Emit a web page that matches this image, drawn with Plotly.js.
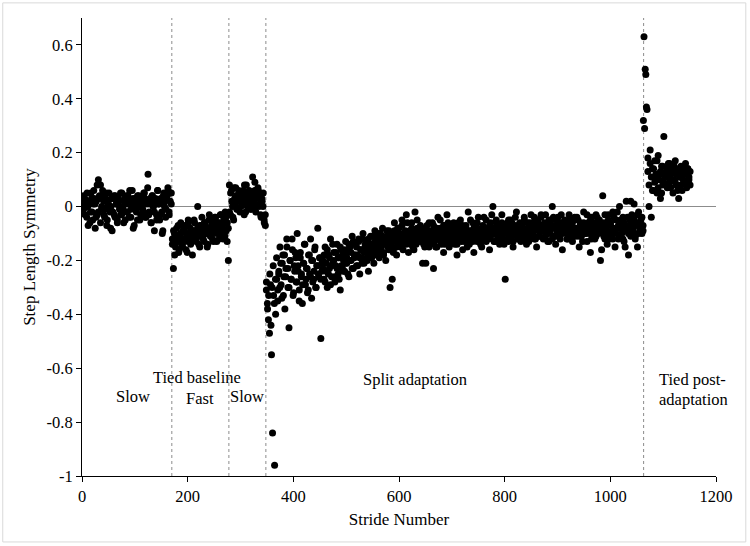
<!DOCTYPE html>
<html>
<head>
<meta charset="utf-8">
<script src="https://cdn.plot.ly/plotly-3.0.1.min.js"></script>
<style>
  html, body { margin: 0; padding: 0; background: #fff; }
  #chart { width: 750px; height: 546px; }
</style>
</head>
<body>
<div id="chart"></div>
<script>
// phase boundaries (stride numbers)
var phaseBounds = [170, 278, 348, 1063];

// step length symmetry, two passes per phase
var slowBase = [0.02,-0.01,0.03,0.01,-0.04,0.00,0.02,-0.06,0.05,-0.02,0.01,0.03,-0.08,0.02,-0.03,0.10,0.04,0.08,-0.01,0.06,
  0.02,-0.04,0.03,-0.07,0.01,0.05,-0.02,0.00,-0.09,0.03,-0.03,0.04,0.01,-0.05,0.02,-0.01,0.05,-0.03,0.00,-0.06,
  0.03,0.01,-0.02,0.04,-0.04,0.02,-0.01,0.06,-0.08,0.00,0.03,-0.02,-0.05,0.04,0.01,-0.03,0.02,-0.01,0.05,0.03,
  -0.04,0.01,0.12,-0.02,0.03,-0.06,0.04,0.00,-0.09,0.02,-0.03,0.06,0.01,-0.05,0.03,-0.02,-0.09,0.05,0.02,-0.01,
  0.04,0.06,-0.03,0.02,0.05];
var slowBaseB = [0.01,0.04,-0.03,0.00,0.05,-0.07,0.02,-0.02,0.03,-0.05,0.06,0.01,-0.04,0.08,-0.02,0.03,-0.06,0.00,0.04,-0.03,
  -0.01,0.05,-0.05,0.02,0.00,-0.08,0.03,-0.02,0.04,-0.04,0.01,-0.06,0.03,0.00,-0.03,0.05,-0.01,0.02,-0.05,0.04,
  -0.02,0.01,0.06,-0.04,0.00,0.03,-0.07,0.02,-0.01,0.04,0.00,-0.05,0.03,0.01,-0.02,0.05,-0.04,0.02,0.07,-0.03,
  0.01,-0.06,0.04,0.00,-0.02,0.03,-0.05,0.06,0.01,-0.03,0.02,-0.10,0.04,0.00,-0.04,0.03,0.07,-0.02,0.05,0.01];
var fastBase = [-0.12,-0.23,-0.10,-0.15,-0.08,-0.13,-0.17,-0.11,-0.06,-0.14,-0.09,-0.12,-0.07,-0.16,-0.10,-0.05,-0.13,-0.08,
  -0.11,-0.18,-0.09,-0.06,-0.12,-0.10,0.00,-0.14,-0.07,-0.11,-0.04,-0.09,-0.13,-0.06,-0.10,-0.15,-0.08,-0.03,
  -0.11,-0.07,-0.12,-0.05,-0.09,-0.04,-0.13,-0.08,-0.06,-0.10,-0.03,-0.07,-0.12,-0.05,-0.02,-0.09,-0.06,-0.20];
var fastBaseB = [-0.14,-0.09,-0.18,-0.11,-0.13,-0.07,-0.16,-0.10,-0.12,-0.15,-0.08,-0.13,-0.10,-0.17,-0.06,-0.11,-0.14,-0.09,
  -0.12,-0.05,-0.10,-0.13,-0.08,-0.11,-0.15,-0.07,-0.09,-0.12,-0.06,-0.10,-0.08,-0.14,-0.05,-0.09,-0.11,-0.07,
  -0.13,-0.04,-0.08,-0.10,-0.06,-0.12,-0.03,-0.09,-0.07,-0.05,-0.11,-0.04,-0.13,-0.08];
var slowBase2 = [0.08,-0.03,0.06,0.00,-0.05,0.03,0.07,-0.01,0.02,0.05,-0.02,0.04,0.01,0.06,-0.03,0.03,0.08,0.00,
  0.05,0.02,-0.01,0.04,0.11,0.01,0.06,-0.02,0.03,0.07,0.00,0.04,-0.04,0.02,0.05,-0.06,-0.07];
var slowBase2B = [-0.02,0.05,0.02,-0.04,0.07,0.01,0.04,-0.01,0.06,0.03,0.00,0.05,0.02,0.08,-0.02,0.04,0.01,0.06,
  0.03,-0.01,0.05,0.02,0.09,0.00,0.04,0.06,0.01,-0.03,0.03,0.00,-0.05,-0.03];
var splitEarly = [-0.31,-0.36,-0.42,-0.47,-0.29,-0.55,-0.84,-0.33,-0.96,-0.40,-0.27,-0.35,-0.25,-0.30,-0.21,-0.34,
  -0.18,-0.26,-0.38,-0.23,-0.15,-0.30,-0.45,-0.20,-0.27,-0.12,-0.33,-0.22,-0.17,-0.28,-0.10,-0.24,-0.31,-0.19,
  -0.26,-0.36,-0.21,-0.14,-0.29,-0.23,-0.32,-0.18,-0.25,-0.12,-0.34,-0.20,-0.27,-0.16,-0.30,-0.22,-0.08,-0.26,
  -0.19,-0.49,-0.24];
var splitEarlyB = [-0.28,-0.38,-0.33,-0.25,-0.44,-0.30,-0.22,-0.36,-0.27,-0.19,-0.31,-0.24,-0.15,-0.29,-0.21,-0.33,
  -0.18,-0.26,-0.12,-0.23,-0.30,-0.20,-0.27,-0.16,-0.32,-0.24,-0.19,-0.28,-0.22,-0.35,-0.17,-0.25,-0.29,-0.21,
  -0.14,-0.27,-0.23,-0.31,-0.18,-0.26,-0.20,-0.28,-0.24,-0.15,-0.30,-0.22,-0.25,-0.19,-0.27,-0.21];
var splitMid = [-0.20,-0.27,-0.15,-0.24,-0.30,-0.18,-0.23,-0.12,-0.26,-0.21,
  -0.17,-0.28,-0.22,-0.14,-0.25,-0.19,-0.31,-0.16,-0.23,-0.20,
  -0.24,-0.13,-0.21,-0.17,-0.26,-0.15,-0.20,-0.11,-0.23,-0.18,
  -0.14,-0.22,-0.18,-0.12,-0.25,-0.16,-0.19,-0.10,-0.21,-0.15,
  -0.13,-0.19,-0.24,-0.15,-0.11,-0.18,-0.14,-0.21,-0.09,-0.17,
  -0.12,-0.16,-0.19,-0.10,-0.14,-0.08,-0.17,-0.13,-0.20,-0.11,
  -0.15,-0.09,-0.30,-0.12,-0.27,-0.16,-0.06,-0.13,-0.18,-0.10,
  -0.08,-0.14,-0.11,-0.05,-0.16,-0.10,-0.13,-0.03,-0.12,-0.17,
  -0.09,-0.13,-0.06,-0.15,-0.11,-0.02,-0.14,-0.08,-0.12,-0.10,
  -0.07,-0.13,-0.21,-0.10,-0.15,-0.21,-0.09,-0.12,-0.06,-0.14];
var splitMidB = [-0.23,-0.18,-0.28,-0.21,-0.16,-0.25,-0.19,-0.29,-0.22,-0.14,
  -0.20,-0.26,-0.17,-0.23,-0.19,-0.27,-0.15,-0.22,-0.18,-0.24,
  -0.16,-0.21,-0.19,-0.25,-0.14,-0.20,-0.17,-0.23,-0.13,-0.19,
  -0.18,-0.15,-0.22,-0.13,-0.19,-0.16,-0.21,-0.12,-0.17,-0.14,
  -0.16,-0.20,-0.12,-0.17,-0.14,-0.19,-0.11,-0.16,-0.13,-0.18,
  -0.14,-0.10,-0.17,-0.13,-0.15,-0.11,-0.18,-0.12,-0.14,-0.09,
  -0.13,-0.16,-0.10,-0.14,-0.12,-0.17,-0.09,-0.11,-0.15,-0.08,
  -0.12,-0.10,-0.15,-0.07,-0.13,-0.11,-0.09,-0.14,-0.06,-0.12,
  -0.10,-0.14,-0.08,-0.12,-0.16,-0.09,-0.11,-0.05,-0.13,-0.10,
  -0.12,-0.08,-0.11,-0.14,-0.09,-0.13,-0.07,-0.11,-0.15,-0.10];
var splitLate = [-0.11,-0.06,-0.23,-0.13,-0.09,-0.15,-0.04,-0.12,-0.08,-0.14,
  -0.10,-0.17,-0.07,-0.12,-0.03,-0.11,-0.15,-0.08,-0.13,-0.09,
  -0.06,-0.14,-0.10,-0.18,-0.08,-0.12,-0.05,-0.11,-0.16,-0.09,
  -0.13,-0.07,-0.10,-0.02,-0.14,-0.09,-0.12,-0.06,-0.17,-0.10,
  -0.08,-0.13,-0.04,-0.11,-0.09,-0.15,-0.07,-0.12,-0.10,-0.05,
  -0.12,-0.08,-0.16,-0.06,-0.10,0.00,-0.13,-0.09,-0.05,-0.11,
  -0.07,-0.14,-0.09,-0.03,-0.12,-0.08,-0.27,-0.10,-0.06,-0.13,
  -0.09,-0.05,-0.11,-0.15,-0.07,-0.10,-0.02,-0.12,-0.08,-0.06,
  -0.13,-0.07,-0.10,-0.04,-0.09,-0.14,-0.06,-0.11,-0.08,-0.03,
  -0.10,-0.06,-0.12,-0.08,-0.15,-0.05,-0.09,-0.11,-0.04,-0.07,
  -0.12,-0.08,-0.03,-0.10,-0.06,-0.13,-0.09,-0.05,0.00,-0.11,
  -0.07,-0.14,-0.09,-0.04,-0.11,-0.06,-0.10,-0.16,-0.08,-0.05,
  -0.09,-0.12,-0.06,-0.03,-0.10,-0.07,-0.13,-0.05,-0.08,-0.11,
  -0.04,-0.09,-0.15,-0.06,-0.11,-0.08,-0.02,-0.10,-0.07,-0.13,
  -0.06,-0.09,-0.17,-0.04,-0.11,-0.07,-0.12,-0.03,-0.08,-0.10,
  -0.05,-0.20,-0.09,0.04,-0.06,-0.12,-0.08,-0.14,-0.03,-0.10,
  -0.07,-0.11,-0.02,-0.09,-0.15,-0.05,-0.08,-0.12,0.00,-0.06,
  -0.10,-0.04,-0.13,-0.07,0.02,-0.09,-0.18,-0.05,-0.11,-0.03,
  -0.08,0.01,-0.12,-0.06,-0.15,-0.02,-0.09,-0.05,-0.10,-0.07];
var splitLateB = [-0.09,-0.13,-0.07,-0.11,-0.15,-0.08,-0.12,-0.10,-0.05,-0.13,
  -0.11,-0.07,-0.14,-0.09,-0.12,-0.06,-0.10,-0.13,-0.08,-0.11,
  -0.12,-0.08,-0.10,-0.14,-0.06,-0.11,-0.09,-0.13,-0.07,-0.10,
  -0.08,-0.12,-0.15,-0.09,-0.11,-0.05,-0.10,-0.13,-0.08,-0.12,
  -0.10,-0.06,-0.12,-0.09,-0.14,-0.08,-0.11,-0.04,-0.10,-0.13,
  -0.09,-0.12,-0.07,-0.11,-0.03,-0.10,-0.08,-0.13,-0.06,-0.09,
  -0.11,-0.08,-0.12,-0.06,-0.10,-0.14,-0.07,-0.09,-0.12,-0.05,
  -0.08,-0.11,-0.06,-0.13,-0.09,-0.04,-0.10,-0.07,-0.12,-0.08,
  -0.10,-0.07,-0.12,-0.05,-0.09,-0.11,-0.08,-0.13,-0.06,-0.10,
  -0.07,-0.10,-0.04,-0.12,-0.08,-0.06,-0.11,-0.09,-0.03,-0.08,
  -0.09,-0.06,-0.11,-0.08,-0.13,-0.05,-0.10,-0.07,-0.12,-0.04,
  -0.08,-0.11,-0.05,-0.09,-0.07,-0.12,-0.03,-0.10,-0.06,-0.09,
  -0.07,-0.10,-0.12,-0.05,-0.08,-0.11,-0.06,-0.09,-0.04,-0.10,
  -0.08,-0.05,-0.11,-0.07,-0.09,-0.13,-0.06,-0.08,-0.10,-0.03,
  -0.07,-0.10,-0.05,-0.12,-0.08,-0.06,-0.09,-0.11,-0.04,-0.07,
  -0.09,-0.06,-0.16,-0.08,-0.11,-0.03,-0.07,-0.10,-0.05,-0.12,
  -0.06,-0.09,-0.12,-0.04,-0.08,-0.10,-0.02,-0.07,-0.11,-0.05,
  -0.08,-0.12,-0.06,-0.15,-0.09,-0.04,-0.10,-0.07,0.02,-0.06,
  -0.09,-0.05,-0.11,-0.07,-0.03,-0.10,-0.06,-0.08,-0.04,-0.09];
var postEarly = [0.32,0.63,0.29,0.51,0.49,0.37,0.36];
var postLate = [0.18,0.00,0.21,-0.04,0.14,0.06,0.17,0.10,0.05,0.19,0.12,0.03,0.15,0.08,0.26,0.11,0.13,0.07,0.16,
  0.09,0.12,0.14,0.05,0.10,0.17,0.08,0.13,0.03,0.11,0.15,0.06,0.12,0.09,0.16,0.07,0.14,0.10,0.08];
var postLateB = [0.13,0.08,0.16,0.11,0.06,0.14,0.09,0.12,0.17,0.07,0.10,0.13,0.05,0.15,0.09,0.12,0.08,0.14,0.11,0.16,
  0.07,0.13,0.10,0.15,0.09,0.12,0.06,0.14,0.11,0.08,0.13,0.10,0.15,0.12,0.09,0.14,0.11,0.13];

var yTicks = [-1, -0.8, -0.6, -0.4, -0.2, 0, 0.2, 0.4, 0.6];
var yTickLabels = ['-1', '-0.8', '-0.6', '-0.4', '-0.2', '0', '0.2', '0.4', '0.6'];
var xTicks = [0, 200, 400, 600, 800, 1000, 1200];

// each phase's strides run from its first to its last stride number
function strides(ys, first, last) {
  var step = (last - first) / ys.length;
  return ys.map(function (v, i) { return first + (i + 0.5) * step; });
}

var segments = [
  [slowBase, 0, 170], [slowBaseB, 0, 170],
  [fastBase, 170, 278], [fastBaseB, 170, 278],
  [slowBase2, 278, 348], [slowBase2B, 278, 348],
  [splitEarly, 348, 455], [splitEarlyB, 348, 455],
  [splitMid, 455, 660], [splitMidB, 455, 660],
  [splitLate, 660, 1063], [splitLateB, 660, 1063],
  [postEarly, 1062, 1070], [postLate, 1070, 1152], [postLateB, 1070, 1152]
];
var xs = [], ys = [];
segments.forEach(function (s) {
  xs = xs.concat(strides(s[0], s[1], s[2]));
  ys = ys.concat(s[0]);
});

var serif = '"Liberation Serif", "Times New Roman", serif';

var trace = {
  x: xs,
  y: ys,
  mode: 'markers',
  type: 'scatter',
  marker: { color: '#000', size: 7 },
  hoverinfo: 'x+y'
};

var shapes = phaseBounds.map(function (b) {
  return {
    type: 'line', xref: 'x', yref: 'y', x0: b, x1: b, y0: -1, y1: 0.7,
    line: { color: '#8c8c8c', width: 1, dash: 'dot' }, layer: 'below'
  };
});
// thin frame round the whole picture
shapes.push({
  type: 'rect', xref: 'paper', yref: 'paper', x0: -0.125, x1: 1.047, y0: -0.144, y1: 1.033,
  line: { color: '#d9d9d9', width: 1 }
});

function label(text, x, y, anchor) {
  return { text: text, x: x, y: y, xref: 'x', yref: 'y', showarrow: false,
    xanchor: anchor || 'center', yanchor: 'middle', font: { family: serif, size: 16.5, color: '#000' } };
}

var layout = {
  width: 750,
  height: 546,
  autosize: false,
  margin: { l: 82, r: 34, t: 18, b: 70 },
  paper_bgcolor: '#fff',
  plot_bgcolor: '#fff',
  showlegend: false,
  font: { family: serif, size: 16.5, color: '#000' },
  xaxis: {
    range: [0, 1200], tickvals: xTicks, ticks: 'outside', ticklen: 5, tickcolor: '#000',
    showline: true, linecolor: '#000', linewidth: 1, showgrid: false, zeroline: false,
    title: { text: 'Stride Number', font: { family: serif, size: 17 }, standoff: 8 },
    tickfont: { family: serif, size: 16.5 }
  },
  yaxis: {
    range: [-1, 0.7], tickvals: yTicks, ticktext: yTickLabels, ticks: 'outside', ticklen: 5,
    tickcolor: '#000', showline: true, linecolor: '#000', linewidth: 1, showgrid: false,
    zeroline: true, zerolinecolor: '#8c8c8c', zerolinewidth: 1.5,
    title: { text: 'Step Length Symmetry', font: { family: serif, size: 17 }, standoff: 6 },
    tickfont: { family: serif, size: 16.5 }
  },
  shapes: shapes,
  annotations: [
    label('Slow', 96, -0.706),
    label('Tied baseline', 217, -0.634),
    label('Fast', 223, -0.714),
    label('Slow', 313, -0.706),
    label('Split adaptation', 631, -0.643),
    label('Tied post-', 1089, -0.643, 'left'),
    label('adaptation', 1089, -0.717, 'left')
  ]
};

Plotly.newPlot('chart', [trace], layout, { displayModeBar: false, staticPlot: true });
</script>
</body>
</html>
